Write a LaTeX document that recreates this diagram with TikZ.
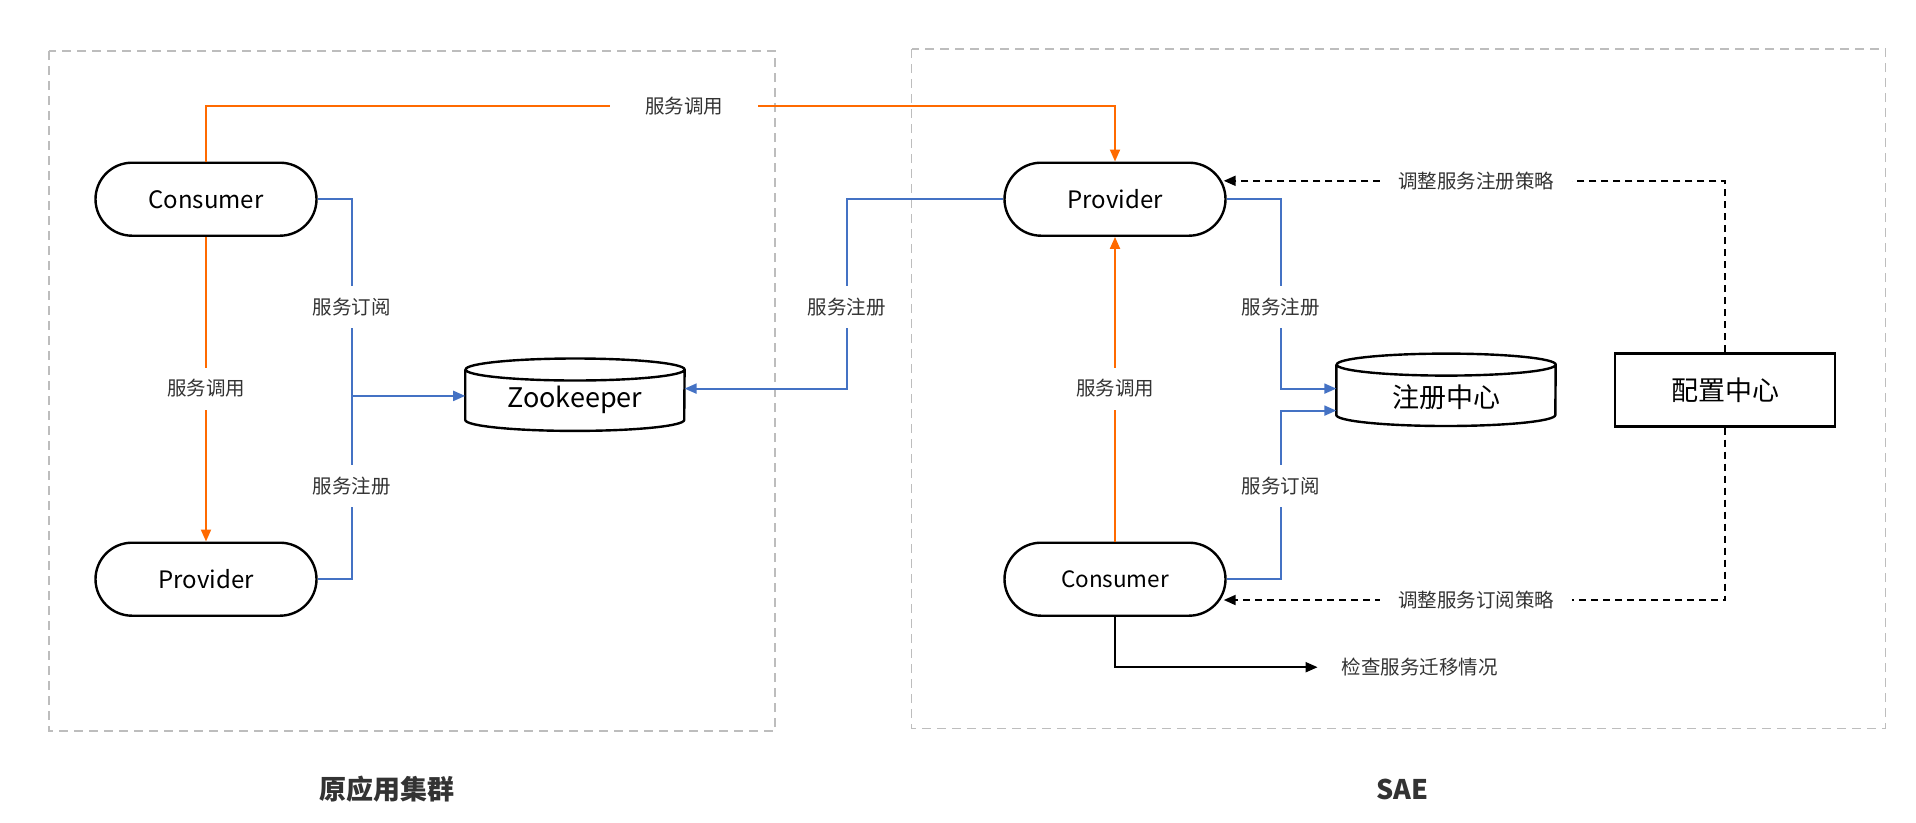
\documentclass[tikz,border=0pt]{standalone}
\usepackage{fontspec}
\setmainfont{Noto Sans CJK SC}
\usetikzlibrary{shapes.misc,arrows.meta}
\definecolor{org}{HTML}{FF6A00}
\definecolor{blu}{HTML}{4472C4}
\definecolor{lbl}{HTML}{333333}
\definecolor{frm}{HTML}{BDBDBD}
\begin{document}
\begin{tikzpicture}[x=1pt,y=-1pt,
  pill/.style={rounded rectangle, draw=black, line width=2.4pt, fill=white, minimum width=221pt, minimum height=73pt, inner sep=0pt, font=\fontsize{24}{28}\selectfont},
  cylbox/.style={minimum width=219pt, minimum height=72pt, inner sep=0pt, font=\fontsize{27}{32}\selectfont},
  cyl/.style={draw=black, line width=2.4pt, fill=white},
  lab/.style={fill=white, text=lbl, font=\fontsize{19.5}{23}\selectfont, inner xsep=4pt, inner ysep=12pt},
  frame/.style={draw=frm, line width=1.6pt, dash pattern=on 9pt off 6pt},
  oline/.style={draw=org, line width=2pt},
  bline/.style={draw=blu, line width=2pt},
  kline/.style={draw=black, line width=2pt},
  tip/.style={-{Triangle[length=12pt,width=10pt]}},
  title/.style={text=lbl, font=\fontsize{27}{32}\selectfont\bfseries}
]
\useasboundingbox (0,0) rectangle (1916,822);
% frames
\draw[frame] (49,51) rectangle (775,731);
\draw[frame] (911.5,49) rectangle (1885.5,728.5);

% nodes
\node[pill] (lc) at (206,199.2) {Consumer};
\node[pill] (lp) at (206,579.2) {Provider};
\node[pill] (rp) at (1115,199.2) {Provider};
\node[pill, font=\fontsize{22.5}{27}\selectfont] (rc) at (1115,579.2) {Consumer};
\node[cylbox] (zk) at (574.9,394.7) {};
\node[cylbox] (reg) at (1446,389.8) {};
\node[draw=black, line width=2.4pt, minimum width=220pt, minimum height=73pt, inner sep=0pt, font=\fontsize{27}{32}\selectfont] (cfg) at (1725,389.8) {配置中心};

% cylinders
\foreach \c in {zk,reg}{
  \draw[cyl] ([yshift=-11pt]\c.north west) -- ([yshift=11pt]\c.south west)
    arc[start angle=180,end angle=360,x radius=109.5pt,y radius=11pt]
    -- ([yshift=-11pt]\c.north east)
    arc[start angle=0,end angle=180,x radius=109.5pt,y radius=11pt]
    arc[start angle=180,end angle=360,x radius=109.5pt,y radius=11pt];
}
\node[font=\fontsize{27}{32}\selectfont] (zkt) at ([yshift=-5pt]zk.center) {Zookeeper};
\node[font=\fontsize{27}{32}\selectfont] (regt) at ([yshift=-7pt]reg.center) {注册中心};

% junction coordinates
\coordinate (o1) at (206,106.3);
\coordinate (o2) at (1115,106.3);
\coordinate (jl) at (351.9,395.9);
\coordinate (jz) at (846.8,388.6);
\coordinate (j1) at (1280.6,388.6);
\coordinate (j2) at (1280.6,410.6);
\coordinate (d1) at (1725.3,180.8);
\coordinate (d2) at (1725.3,600);

% orange
\draw[oline,tip] (lc.north) -- (o1) -- (o2) -- (rp.north);
\draw[oline,tip] (lc.south) -- (lp.north);
\draw[oline,tip] (rc.north) -- (rp.south);

% blue
\draw[bline] (lc.east) -| (jl);
\draw[bline] (lp.east) -| (jl);
\draw[bline,tip] (jl) -- (jl -| zk.west);
\draw[bline,tip] (rp.west) -| (jz) -- (jz -| zk.east);
\draw[bline,tip] (rp.east) -| (j1) -- (j1 -| reg.west);
\draw[bline,tip] (rc.east) -| (j2) -- (j2 -| reg.west);

% dashed black
\draw[kline,dash pattern=on 7pt off 5pt,tip] (cfg.north) |- ([xshift=-3pt]d1 -| rp.east);
\draw[kline,dash pattern=on 7pt off 5pt,tip] (cfg.south) |- ([xshift=-3pt]d2 -| rc.east);

% check
\node[text=lbl, font=\fontsize{19.5}{23}\selectfont, inner xsep=0pt, anchor=west] (chk) at (1341.6,667.2) {检查服务迁移情况};
\draw[kline,tip] (rc.south) |- ([xshift=-24pt]chk.west);

% labels
\node[lab, inner xsep=35pt] (l1) at (684.3,106.3) {服务调用};
\node[lab] (l2) at (206,388.6) {服务调用};
\node[lab] (l3) at (351.9,306.7) {服务订阅};
\node[lab] (l4) at (351.9,486.3) {服务注册};
\node[lab] (l5) at (846.8,306.7) {服务注册};
\node[lab] (l6) at (1280.6,306.7) {服务注册};
\node[lab] (l7) at (1280.6,486.3) {服务订阅};
\node[lab] (l8) at (1115,388.6) {服务调用};
\node[lab, inner xsep=18pt] (l9) at (1476,180.8) {调整服务注册策略};
\node[lab, inner xsep=18pt] (l10) at (1476,600) {调整服务订阅策略};

% titles
\node[title] (t1) at (387.3,789.3) {原应用集群};
\node[title] (t2) at (1402.7,789.3) {SAE};
\end{tikzpicture}
\end{document}
